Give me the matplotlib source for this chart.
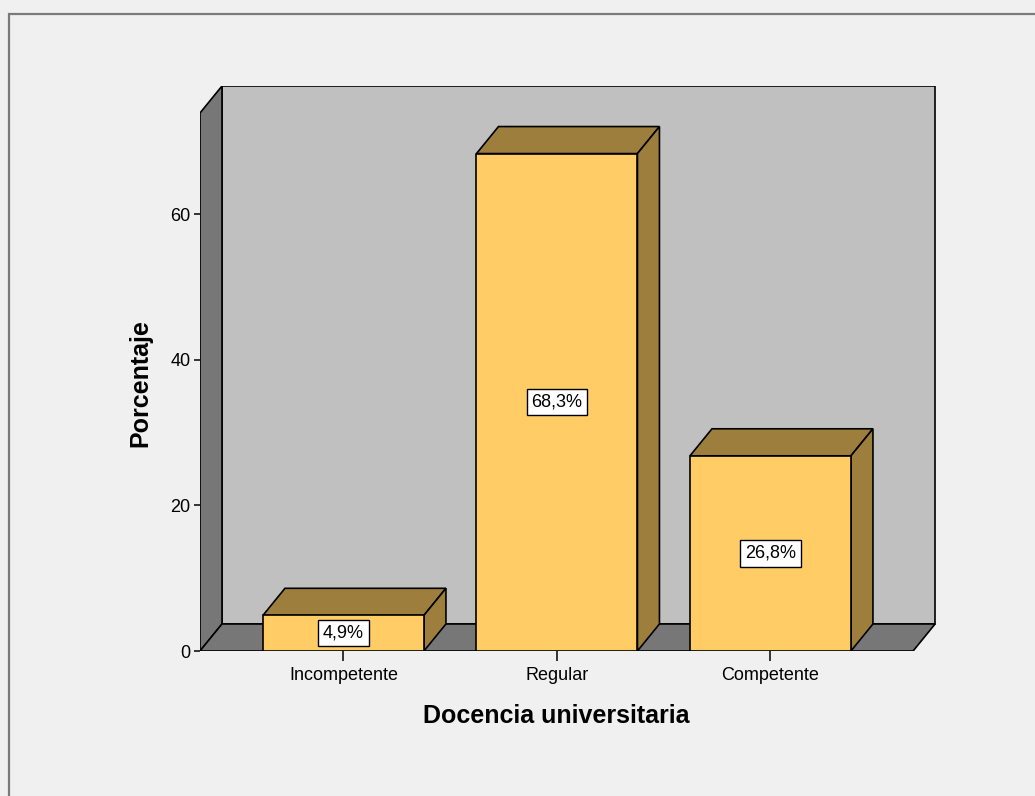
import matplotlib.pyplot as plt
from matplotlib.patches import Polygon, Rectangle

plt.rcParams['font.family'] = ['Liberation Sans', 'DejaVu Sans']

categories = ['Incompetente', 'Regular', 'Competente']
percentages = [4.9, 68.3, 26.8]
value_labels = ['4,9%', '68,3%', '26,8%']
y_ticks = [0, 20, 40, 60]

FRONT = '#ffcc66'
SHADE = '#9e7e3d'
BACK_WALL = '#c0c0c0'
SIDE_WALL = '#777777'
BG = '#f0f0f0'

# pseudo-3D depth, in data units
DX = 0.103
DY = 3.71
BAR_W = 0.754
X0, X1 = -0.672, 2.668   # front plane
YT = 73.87               # front plane top

fig = plt.figure(figsize=(10.35, 7.96), dpi=100, facecolor=BG)
fig.patches.append(Rectangle((9 / 1035, -0.05), 1.1, 1.05 - 14 / 796,
                             transform=fig.transFigure, fill=False,
                             edgecolor='#7a7a7a', linewidth=1.6))

ax = fig.add_axes([200 / 1035, 145 / 796, 736 / 1035, 565 / 796])
ax.set_facecolor('none')
ax.set_xlim(X0, X0 + 736 / 213.5)
ax.set_ylim(0, 565 / 7.283)
for s in ax.spines.values():
    s.set_visible(False)

edge = dict(edgecolor='black', linewidth=1.2, joinstyle='miter')

# walls and floor
ax.add_patch(Polygon([(X0 + DX, DY), (X1 + DX, DY), (X1 + DX, YT + DY), (X0 + DX, YT + DY)],
                     facecolor=BACK_WALL, **edge))
ax.add_patch(Polygon([(X0, 0), (X0 + DX, DY), (X0 + DX, YT + DY), (X0, YT)],
                     facecolor=SIDE_WALL, **edge))
ax.add_patch(Polygon([(X0, 0), (X1, 0), (X1 + DX, DY), (X0 + DX, DY)],
                     facecolor=SIDE_WALL, **edge))

# bars
for i, (v, lab) in enumerate(zip(percentages, value_labels)):
    l, r = i - BAR_W / 2, i + BAR_W / 2
    ax.add_patch(Polygon([(l, v), (r, v), (r + DX, v + DY), (l + DX, v + DY)],
                         facecolor=SHADE, **edge))
    ax.add_patch(Polygon([(r, 0), (r + DX, DY), (r + DX, v + DY), (r, v)],
                         facecolor=SHADE, **edge))
    ax.add_patch(Polygon([(l, 0), (r, 0), (r, v), (l, v)],
                         facecolor=FRONT, **edge))
    ax.text(i, v / 2, lab, ha='center', va='center', fontsize=13,
            bbox=dict(boxstyle='square,pad=0.26', facecolor='white',
                      edgecolor='black', linewidth=1))

ax.set_yticks(y_ticks)
ax.set_xticks(range(len(categories)), categories)
ax.tick_params(axis='y', length=4, width=1.1, pad=3, labelsize=13)
ax.tick_params(axis='x', length=7.5, width=1.1, pad=4, labelsize=13)

fig.text(140 / 1035, 1 - 383 / 796, 'Porcentaje', rotation=90, ha='center',
         va='center', fontsize=18, fontweight='bold')
fig.text(556 / 1035, 1 - 716 / 796, 'Docencia universitaria', ha='center',
         va='center', fontsize=18, fontweight='bold')

fig.savefig('out.png', dpi=100, facecolor=BG)
